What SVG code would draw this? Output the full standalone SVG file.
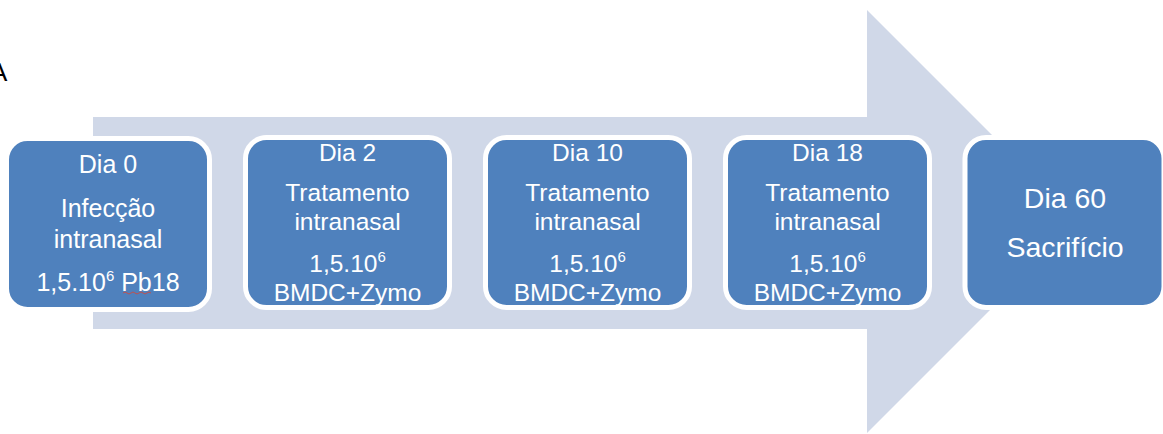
<svg xmlns="http://www.w3.org/2000/svg" width="1163" height="434" viewBox="0 0 1163 434">
<style>
.box{fill:#4f81bd;stroke:#ffffff;stroke-width:5}
.t{font-family:"Liberation Sans",Arial,sans-serif;fill:#ffffff;text-anchor:middle}
.s1{font-size:25px}
.s2{font-size:24.5px}
.s5{font-size:28.5px}
.sup{font-size:15px}
</style>
<rect width="1163" height="434" fill="#ffffff"/>
<text x="-10" y="81" font-family="'Liberation Sans',Arial,sans-serif" font-size="26" fill="#000000">A</text>
<g id="connectors">
<polygon points="93,117 867,117 867,10 1078.5,221.5 867,433 867,329 93,329" fill="#d0d8e8"/>
</g>
<g id="n1">
<rect class="box" x="6.5" y="138.5" width="203" height="171" rx="21"/>
<text class="t s1" x="108" y="173">Dia 0</text>
<text class="t s1" x="108" y="217">Infecção</text>
<text class="t s1" x="108" y="248">intranasal</text>
<text class="t s1" x="108" y="291">1,5.10<tspan class="sup" dy="-10">6</tspan><tspan dy="10"> Pb18</tspan></text>
<path d="M123,293 q2,-2 4,0 t4,0 t4,0 t4,0 t4,0 t4,0 t4,0" fill="none" stroke="#c0504d" stroke-width="1"/>
</g>
<g id="n2">
<rect class="box" x="245.5" y="137.5" width="204" height="170" rx="21"/>
<text class="t s2" x="347.5" y="161">Dia 2</text>
<text class="t s2" x="347.5" y="201">Tratamento</text>
<text class="t s2" x="347.5" y="230">intranasal</text>
<text class="t s2" x="347.5" y="272">1,5.10<tspan class="sup" dy="-10">6</tspan></text>
<text class="t s2" x="347.5" y="301">BMDC+Zymo</text>
</g>
<g id="n3">
<rect class="box" x="485.5" y="137.5" width="204" height="170" rx="21"/>
<text class="t s2" x="587.5" y="161">Dia 10</text>
<text class="t s2" x="587.5" y="201">Tratamento</text>
<text class="t s2" x="587.5" y="230">intranasal</text>
<text class="t s2" x="587.5" y="272">1,5.10<tspan class="sup" dy="-10">6</tspan></text>
<text class="t s2" x="587.5" y="301">BMDC+Zymo</text>
</g>
<g id="n4">
<rect class="box" x="725.5" y="137.5" width="204" height="170" rx="21"/>
<text class="t s2" x="827.5" y="161">Dia 18</text>
<text class="t s2" x="827.5" y="201">Tratamento</text>
<text class="t s2" x="827.5" y="230">intranasal</text>
<text class="t s2" x="827.5" y="272">1,5.10<tspan class="sup" dy="-10">6</tspan></text>
<text class="t s2" x="827.5" y="301">BMDC+Zymo</text>
</g>
<g id="n5">
<rect class="box" x="965" y="137.5" width="199" height="170" rx="21"/>
<text class="t s5" x="1065" y="208">Dia 60</text>
<text class="t s5" x="1065" y="257">Sacrifício</text>
</g>
</svg>
